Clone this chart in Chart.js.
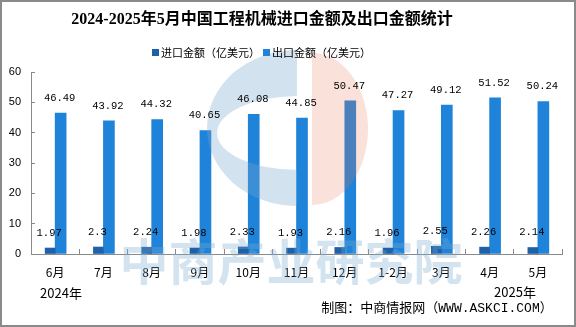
<!DOCTYPE html>
<html>
<head>
<meta charset="utf-8">
<script src="https://cdn.jsdelivr.net/npm/chart.js@4"></script>
<style>
html,body{margin:0;padding:0;background:#fff;}
#wrap{width:576px;height:327px;position:relative;}
</style>
</head>
<body>
<div id="wrap"><canvas id="c" width="576" height="327"></canvas></div>
<script>
const categories = ['6月','7月','8月','9月','10月','11月','12月','1-2月','3月','4月','5月'];
const importValues = [1.97, 2.3, 2.24, 1.98, 2.33, 1.93, 2.16, 1.96, 2.55, 2.26, 2.14];
const exportValues = [46.49, 43.92, 44.32, 40.65, 46.08, 44.85, 50.47, 47.27, 49.12, 51.52, 50.24];
const seriesNames = ['进口金额（亿美元）', '出口金额（亿美元）'];
const titleText = '2024-2025年5月中国工程机械进口金额及出口金额统计';
const yearLabels = ['2024年', '2025年'];
const sourceText = '制图：中商情报网（WWW.ASKCI.COM）';
const watermarkText = '中商产业研究院';

const colImport = '#1d61a8';
const colExport = '#1f83d9';
const CJK = '"Noto Sans CJK SC", sans-serif';

function halfEllipse(ctx, cx, cy, rx, ry, left) {
  ctx.beginPath();
  if (left) ctx.ellipse(cx, cy, rx, ry, 0, Math.PI / 2, Math.PI * 1.5);
  else ctx.ellipse(cx, cy, rx, ry, 0, -Math.PI / 2, Math.PI / 2);
  ctx.closePath();
}

const decorPlugin = {
  id: 'decor',
  afterDatasetsDraw(chart) {
    const ctx = chart.ctx;
    ctx.save();
    // logo watermark (semi-transparent, over bars)
    const off = document.createElement('canvas');
    off.width = 576; off.height = 327;
    const o = off.getContext('2d');
    o.fillStyle = 'rgb(120,170,205)';
    halfEllipse(o, 297, 128, 90, 78, true);
    o.fill();
    o.globalCompositeOperation = 'destination-out';
    halfEllipse(o, 299, 133, 82, 37, true);
    o.fill();
    o.globalCompositeOperation = 'source-over';
    ctx.globalAlpha = 0.33;
    ctx.drawImage(off, 0, 0);
    ctx.globalAlpha = 0.22;
    ctx.fillStyle = 'rgb(230,120,80)';
    halfEllipse(ctx, 312, 129, 56, 76, false);
    ctx.fill();
    // watermark text
    ctx.globalAlpha = 0.33;
    ctx.fillStyle = 'rgb(120,170,205)';
    ctx.font = 'bold 49px ' + CJK;
    ctx.textAlign = 'center';
    ctx.textBaseline = 'middle';
    ctx.fillText(watermarkText, 291, 261);
    ctx.globalAlpha = 1;
    // value labels
    ctx.font = '10.5px "Liberation Mono", "DejaVu Sans Mono", monospace';
    ctx.fillStyle = '#000';
    ctx.textAlign = 'center';
    ctx.textBaseline = 'middle';
    chart.data.datasets.forEach((ds, i) => {
      const meta = chart.getDatasetMeta(i);
      meta.data.forEach((el, j) => {
        ctx.fillText(String(ds.data[j]), el.x - 1, el.y - 15);
      });
    });
    ctx.restore();
  },
  afterDraw(chart) {
    const ctx = chart.ctx;
    ctx.save();
    // title
    ctx.fillStyle = '#000';
    ctx.font = 'bold 16px "Liberation Serif", ' + CJK;
    ctx.textAlign = 'center';
    ctx.textBaseline = 'middle';
    ctx.fillText(titleText, 262, 20);
    // legend
    ctx.font = '11px ' + CJK;
    ctx.textAlign = 'left';
    const items = [[152, colImport], [263, colExport]];
    items.forEach((it, i) => {
      ctx.fillStyle = it[1];
      ctx.fillRect(it[0], 49, 7, 7);
      ctx.fillStyle = '#000';
      ctx.fillText(seriesNames[i], it[0] + 9, 53);
    });
    // year labels and source
    ctx.font = '13px ' + CJK;
    ctx.textAlign = 'center';
    ctx.fillText(yearLabels[0], 61, 293);
    ctx.fillText(yearLabels[1], 515, 292);
    ctx.font = '13px "Liberation Mono", ' + CJK;
    ctx.fillText(sourceText, 437, 309);
    // outer border
    ctx.strokeStyle = '#8a8a8a';
    ctx.lineWidth = 2;
    ctx.strokeRect(1, 1, 574, 325);
    ctx.restore();
  }
};

new Chart(document.getElementById('c'), {
  type: 'bar',
  data: {
    labels: categories,
    datasets: [
      { label: seriesNames[0], data: importValues, backgroundColor: colImport, barThickness: 10 },
      { label: seriesNames[1], data: exportValues, backgroundColor: colExport, barThickness: 11 }
    ]
  },
  options: {
    responsive: false,
    animation: false,
    devicePixelRatio: 1,
    layout: { padding: { top: 72, right: 14, bottom: 43, left: 0 } },
    datasets: { bar: { categoryPercentage: 0.56, barPercentage: 1 } },
    plugins: {
      legend: { display: false },
      title: { display: false },
      tooltip: { enabled: false }
    },
    scales: {
      x: {
        offset: true,
        grid: { display: true, drawOnChartArea: false, drawTicks: true, tickLength: -5, color: '#8a8a8a', offset: true },
        border: { display: true, color: '#8a8a8a', width: 1 },
        ticks: { font: { family: CJK, size: 12 }, color: '#000', padding: 16, maxRotation: 0, autoSkip: false },
        afterFit: s => { s.height = 30; }
      },
      y: {
        min: 0, max: 60,
        grid: { display: true, drawOnChartArea: false, drawTicks: true, tickLength: -4, color: '#8a8a8a' },
        border: { display: true, color: '#8a8a8a', width: 1 },
        ticks: { stepSize: 10, font: { family: '"Liberation Sans", sans-serif', size: 11 }, color: '#000', padding: 14 },
        afterFit: s => { s.width = 31; }
      }
    }
  },
  plugins: [decorPlugin]
});
</script>
</body>
</html>
